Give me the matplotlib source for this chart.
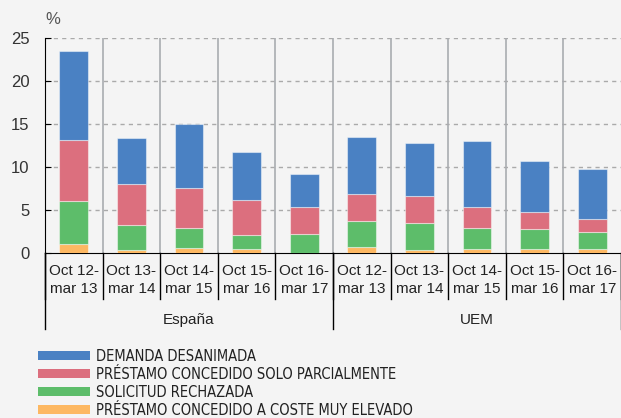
import matplotlib.pyplot as plt
import matplotlib.transforms as mtransforms
from matplotlib.patches import Patch
from matplotlib.font_manager import FontProperties

# Data (%)
periods = ["Oct 12-\nmar 13", "Oct 13-\nmar 14", "Oct 14-\nmar 15",
           "Oct 15-\nmar 16", "Oct 16-\nmar 17"]
groups = ["España", "UEM"]
coste_elevado = [1.0, 0.4, 0.6, 0.5, 0.0, 0.7, 0.4, 0.5, 0.5, 0.5]
rechazada = [5.0, 2.8, 2.3, 1.6, 2.2, 3.0, 3.1, 2.4, 2.3, 1.9]
parcial = [7.1, 4.8, 4.7, 4.1, 3.1, 3.2, 3.1, 2.4, 2.0, 1.6]
desanimada = [10.4, 5.4, 7.4, 5.5, 3.9, 6.6, 6.2, 7.7, 5.9, 5.8]

series = [
    ("PRÉSTAMO CONCEDIDO A COSTE MUY ELEVADO", coste_elevado, "#fdb862"),
    ("SOLICITUD RECHAZADA", rechazada, "#5dbd6a"),
    ("PRÉSTAMO CONCEDIDO SOLO PARCIALMENTE", parcial, "#dc6f7e"),
    ("DEMANDA DESANIMADA", desanimada, "#4a81c3"),
]

bg = "#f4f4f4"
plt.rcParams["font.family"] = ["Liberation Sans", "DejaVu Sans"]

fig = plt.figure(figsize=(6.21, 4.18), dpi=100, facecolor=bg)
ax = fig.add_axes([45 / 621, 1 - 253 / 418, 576 / 621, 215 / 418], facecolor=bg)

n = len(groups) * len(periods)
x = list(range(n))
bottom = [0.0] * n
for name, vals, col in series:
    ax.bar(x, vals, width=0.5, bottom=bottom, color=col,
           edgecolor=(1, 1, 1, 0.45), linewidth=0.8, zorder=3)
    bottom = [b + v for b, v in zip(bottom, vals)]

ax.set_xlim(-0.5, n - 0.5)
ax.set_ylim(0, 25)
ax.set_yticks([0, 5, 10, 15, 20, 25])
ax.set_xticks([])
ax.tick_params(axis="y", direction="in", length=4, pad=11, labelsize=12,
               labelcolor="#333333", color="black")

for yv in [5, 10, 15, 20, 25]:
    ax.axhline(yv, color="#aaaaaa", lw=1, dashes=(3, 3), zorder=1)
for k in range(n - 1):
    ax.axvline(k + 0.5, color="#a9acb0", lw=1.2, zorder=1)

for s in ["top", "right"]:
    ax.spines[s].set_visible(False)
ax.spines["left"].set_color("black")
ax.spines["bottom"].set_color("black")

trans = mtransforms.blended_transform_factory(ax.transData, ax.transAxes)
# category separators under the axis
for k in range(n + 1):
    ax.plot([k - 0.5, k - 0.5], [0, -0.215], color="black", lw=1,
            transform=trans, clip_on=False)
for g in range(len(groups) + 1):
    xg = g * len(periods) - 0.5
    ax.plot([xg, xg], [0, -0.355], color="black", lw=1,
            transform=trans, clip_on=False)

for i in range(n):
    ax.text(i, -0.125, periods[i % len(periods)], transform=trans,
            ha="center", va="center", fontsize=11, color="#222222",
            linespacing=1.35)
for g, name in enumerate(groups):
    ax.text(g * len(periods) + (len(periods) - 1) / 2, -0.31, name,
            transform=trans, ha="center", va="center", fontsize=11,
            color="#222222")

ax.text(0.013, 1.088, "%", transform=ax.transAxes, ha="center", va="center",
        fontsize=12, color="#555555")

legend_font = FontProperties(family="DejaVu Sans", stretch="condensed", size=10.5)
handles = [Patch(facecolor=col, edgecolor="none", label=name)
           for name, vals, col in reversed(series)]
leg = fig.legend(handles=handles, loc="upper left",
                 bbox_to_anchor=(38 / 621, 1 - 349 / 418), frameon=False,
                 prop=legend_font, handlelength=3.55, handleheight=0.6,
                 labelspacing=0.2, handletextpad=0.45, borderaxespad=0,
                 borderpad=0)
for t in leg.get_texts():
    t.set_color("#222222")

fig.savefig("out.png", dpi=100, facecolor=bg)
